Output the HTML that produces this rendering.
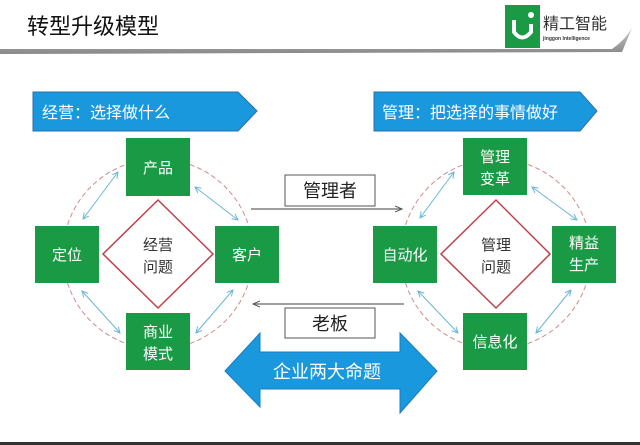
<!DOCTYPE html>
<html><head><meta charset="utf-8"><style>
body{margin:0;background:#fff;}
svg{display:block;font-family:"Liberation Sans","Noto Sans CJK SC",sans-serif;}
</style></head><body>
<svg width="640" height="445" viewBox="0 0 640 445" xmlns="http://www.w3.org/2000/svg">
<defs>
<linearGradient id="hl" x1="0" y1="0" x2="0" y2="1"><stop offset="0" stop-color="#c8c8c8"/><stop offset="1" stop-color="#888"/></linearGradient>
<marker id="ah" markerWidth="8" markerHeight="8" refX="7" refY="4" orient="auto" markerUnits="userSpaceOnUse"><path d="M0,1 L7,4 L0,7" fill="none" stroke="#555" stroke-width="1"/></marker>
<marker id="sa" markerWidth="7" markerHeight="7" refX="6" refY="3.5" orient="auto-start-reverse" markerUnits="userSpaceOnUse"><path d="M0,0.5 L6,3.5 L0,6.5" fill="none" stroke="#6bb6d6" stroke-width="1"/></marker>
</defs>
<rect width="640" height="445" fill="#fff"/>
<text x="27" y="34" font-size="22" fill="#111">转型升级模型</text>
<path d="M0,49 L612,49 Q625,40 632,28 L622,52 L0,54 Z" fill="url(#hl)"/>
<rect x="505" y="5" width="35" height="43" fill="#1a9a45"/>
<path d="M514,20 L514,32 Q522,43 531,32 L531,24" fill="none" stroke="#fff" stroke-width="4"/>
<circle cx="531" cy="15" r="3" fill="#fff"/>
<text x="543" y="29" font-size="16" fill="#333">精工智能</text>
<text x="543" y="40" font-size="5" fill="#333" font-weight="bold">jinggon Intelligence</text>

<path d="M33,92 L238,92 L257,111 L238,131 L33,131 Z" fill="#1a98de" stroke="#2b6ea8" stroke-width="1"/>
<text x="42" y="118" font-size="16" fill="#fff">经营：选择做什么</text>
<path d="M374,92 L580,92 L597,111 L580,131 L374,131 Z" fill="#1a98de" stroke="#2b6ea8" stroke-width="1"/>
<text x="382" y="118" font-size="16" fill="#fff">管理：把选择的事情做好</text>

<g fill="none" stroke="#d08a8a" stroke-width="1" stroke-dasharray="5,3">
<circle cx="158" cy="254" r="95"/>
<circle cx="496" cy="254" r="95"/>
</g>
<g stroke="#6bb6d6" stroke-width="1" marker-start="url(#sa)" marker-end="url(#sa)">
<line x1="118" y1="172" x2="83" y2="219"/>
<line x1="195" y1="187" x2="238" y2="220"/>
<line x1="82" y1="291" x2="120" y2="333"/>
<line x1="233" y1="290" x2="196" y2="333"/>
<line x1="454" y1="172" x2="420" y2="218"/>
<line x1="532" y1="187" x2="577" y2="220"/>
<line x1="418" y1="291" x2="458" y2="333"/>
<line x1="571" y1="290" x2="536" y2="333"/>
</g>
<g fill="#fff" stroke="#c0404a" stroke-width="1.5">
<path d="M158,200 L213,254 L158,308 L103,254 Z"/>
<path d="M496,200 L550,254 L496,308 L441,254 Z"/>
</g>
<g font-size="15" fill="#333" text-anchor="middle">
<text x="158" y="250">经营</text><text x="158" y="272">问题</text>
<text x="496" y="250">管理</text><text x="496" y="272">问题</text>
</g>
<g fill="#1a9a45">
<rect x="126" y="138" width="64" height="58"/>
<rect x="35" y="226" width="64" height="57"/>
<rect x="215" y="226" width="64" height="57"/>
<rect x="126" y="313" width="64" height="57"/>
<rect x="463" y="138" width="64" height="57"/>
<rect x="373" y="226" width="64" height="57"/>
<rect x="552" y="226" width="64" height="57"/>
<rect x="463" y="313" width="64" height="57"/>
</g>
<g font-size="15" fill="#fff" text-anchor="middle">
<text x="158" y="173">产品</text>
<text x="67" y="260">定位</text>
<text x="247" y="260">客户</text>
<text x="158" y="337">商业</text><text x="158" y="359">模式</text>
<text x="495" y="162">管理</text><text x="495" y="184">变革</text>
<text x="405" y="260">自动化</text>
<text x="584" y="248">精益</text><text x="584" y="270">生产</text>
<text x="495" y="347">信息化</text>
</g>
<rect x="285" y="175" width="90" height="31" fill="#fff" stroke="#555" stroke-width="1"/>
<text x="330" y="197" font-size="18" fill="#222" text-anchor="middle">管理者</text>
<line x1="251" y1="209" x2="402" y2="209" stroke="#666" stroke-width="1.3" marker-end="url(#ah)"/>
<line x1="404" y1="304" x2="253" y2="304" stroke="#666" stroke-width="1.3" marker-end="url(#ah)"/>
<rect x="285" y="308" width="90" height="30" fill="#fff" stroke="#555" stroke-width="1"/>
<text x="330" y="330" font-size="18" fill="#222" text-anchor="middle">老板</text>

<path d="M225,371 L260,333 L260,352 L400,352 L400,333 L437,371 L400,413 L400,389 L260,389 L260,407 Z" fill="#1a98de" stroke="#1a7cc0" stroke-width="1"/>
<text x="327" y="378" font-size="18" fill="#fff" text-anchor="middle">企业两大命题</text>
<rect x="0" y="442" width="640" height="3" fill="#333"/>
</svg>
</body></html>
